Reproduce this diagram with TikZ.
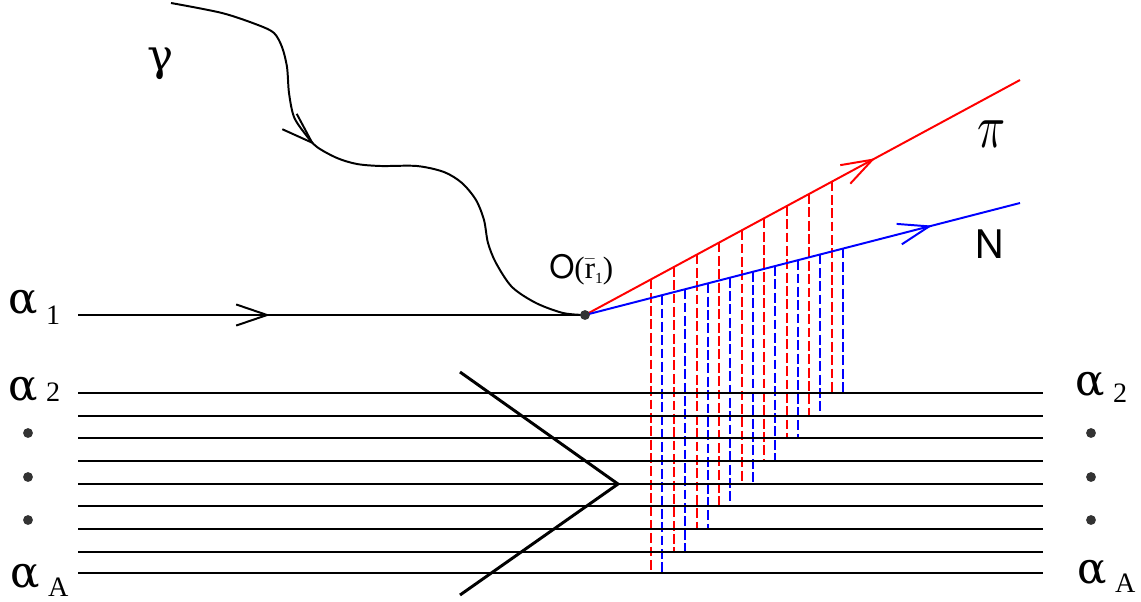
\documentclass[tikz,border=0pt]{standalone}
\usepackage{fontspec}
\setmainfont{Liberation Serif}
\newfontfamily\greekfont{DejaVu Serif}
\newfontfamily\helvfont{TeX Gyre Heros}
\usetikzlibrary{arrows.meta, calc, decorations.markings}

% label alpha with a lowered index
\newcommand{\alab}[2]{{\greekfont\fontsize{31}{31}\selectfont α}\hspace{6pt}\raisebox{#2}{\fontsize{20}{20}\selectfont #1}}

\tikzset{
	midarrow/.style={postaction={decorate}, decoration={markings,
		mark=at position #1 with {\arrow{Straight Barb[length=22pt, width=15pt]}}}},
	layer/.style={line width=2.1pt},
	track/.style={line width=1.4pt},
	reddash/.style={red, line width=1.5pt, dash pattern=on 7pt off 2.5pt},
	bluedash/.style={blue, line width=1.5pt, dash pattern=on 7pt off 2.5pt},
	dot/.style={circle, fill=black!80, inner sep=0pt, minimum size=7pt},
	lab/.style={anchor=base west, inner sep=0pt}
}

\begin{document}
\begin{tikzpicture}[x=0.025cm, y=-0.025cm]
		\useasboundingbox (0,0) rectangle (1141,601);
		
		% --- PUNTOS CLAVE ---
		\coordinate (O) at (585,315);
		\coordinate (a1start) at (78,315);
		\coordinate (piend) at (1020,80);
		\coordinate (nend) at (1020,203);
		\coordinate (chtop) at (460,372);
		\coordinate (chtip) at (618,484);
		\coordinate (chbot) at (460,595);
		
		% --- CAPAS DEL NUCLEO (alpha_2 ... alpha_A) ---
		\foreach \y [count=\i from 0] in {393,416,438,461,484,506,529,552,573} {
			\coordinate (L\i w) at (78,\y);
			\coordinate (L\i e) at (1043,\y);
		}
		
		% --- PROYECCIONES (dashed) ---
		\foreach \x [count=\k from 0] in {651,674,697,719,742,764,787,809,832} {
			\pgfmathtruncatemacro\j{8-\k}
			\coordinate (rt\k) at ($(O)!{(\x-585)/435}!(piend)$);
			\coordinate (bt\k) at ($(O)!{(\x+11-585)/435}!(nend)$);
			\draw[reddash] (rt\k) -- (rt\k |- L\j w);
			\draw[bluedash] (bt\k) -- (bt\k |- L\j w);
		}
		
		\foreach \i in {0,...,8}
			\draw[layer] (L\i w) -- (L\i e);
		
		% chevron
		\draw[layer, line join=miter] (chtop) -- (chtip) -- (chbot);
		
		% --- FOTON gamma ---
		\draw[track, midarrow=0.394] plot[smooth, tension=0.5] coordinates {
			(171,3) (222,13) (258,25) (274,33) (282,47) (287,67) (289,93) (294,117)
			(306,135) (317,147) (337,158) (357,164) (381,166) (417,166) (444,172)
			(462,183) (476,200) (484,220) (488,243) (496,263) (512,287) (536,303)
			(563,313) (O)};
		
		% --- NUCLEON alpha_1 ---
		\draw[track, midarrow=0.379] (a1start) -- (O);
		
		% --- PRODUCTOS pi y N ---
		\draw[track, red, midarrow=0.667] (O) -- (piend);
		\draw[track, blue, midarrow=0.798] (O) -- (nend);
		
		\node[dot] (Odot) at (O) {};
		
		% --- ETIQUETAS ---
		\node[lab] (gam) at (147,70) {\greekfont\fontsize{31}{31}\selectfont γ};
		\node[lab] (pilab) at (977,147) {\resizebox{20pt}{19pt}{$\pi$}};
		\node[lab] (nlab) at (975,258) {\helvfont\fontsize{28}{28}\selectfont N};
		\node[lab] (Olab) at (549,278) {{\helvfont\fontsize{23}{23}\selectfont O}\fontsize{22}{22}\selectfont($\bar{\hbox{r}}$\raisebox{-4pt}{\fontsize{11}{11}\selectfont 1})};
		
		\node[lab] (al1) at (8,313) {\alab{1}{-8pt}};
		\node[lab] (al2) at (8,400) {\alab{2}{-1pt}};
		\node[lab] (alA) at (10,587) {\alab{A}{-7pt}};
		\node[lab] (ar2) at (1075,395) {\alab{2}{-5pt}};
		\node[lab] (arA) at (1077,583) {\alab{A}{-7pt}};
		
		% puntos suspensivos
		\foreach \y [count=\n] in {433,477,520} {
			\node[dot] (ldot\n) at (28,\y) {};
			\node[dot] (rdot\n) at (1091,\y) {};
		}
		
	\end{tikzpicture}
\end{document}
